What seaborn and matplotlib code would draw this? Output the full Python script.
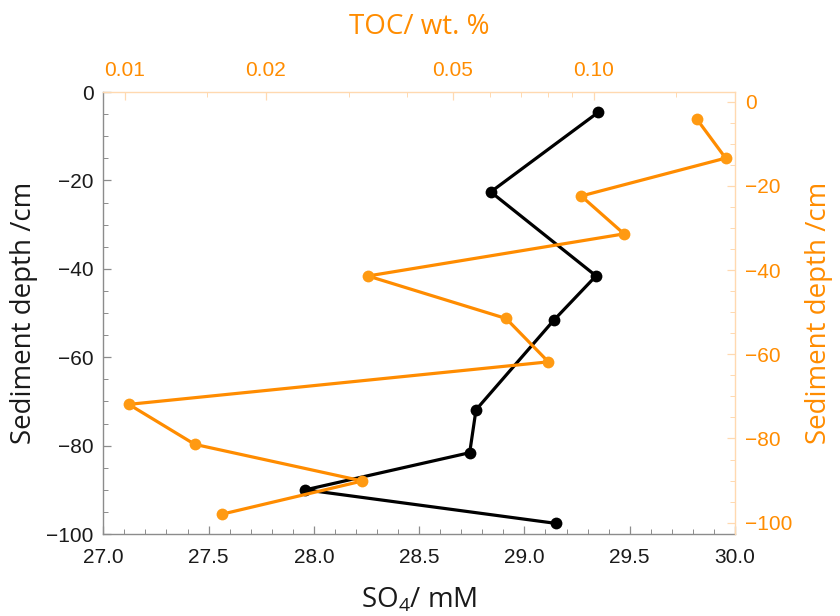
import matplotlib
matplotlib.use("Agg")
import matplotlib.pyplot as plt
import matplotlib.ticker as mticker
import seaborn as sns
import pandas as pd

# ---- data ----
so4_depth = [-4.6, -22.6, -41.6, -51.6, -71.9, -81.6, -90.0, -97.6]
so4_conc = [29.35, 28.84, 29.34, 29.14, 28.77, 28.74, 27.96, 29.15]

toc_depth = [-4.2, -13.4, -22.4, -31.4, -41.4, -51.5, -61.8, -71.9, -81.4, -90.1, -98.0]
toc_wt = [0.166, 0.191, 0.094, 0.116, 0.033, 0.065, 0.080, 0.0102, 0.0141, 0.0321, 0.0161]

bottom_ticks = [27.0, 27.5, 28.0, 28.5, 29.0, 29.5, 30.0]
top_ticks = [0.01, 0.02, 0.05, 0.10]
top_tick_labels = ["0.01", "0.02", "0.05", "0.10"]
depth_ticks = [0, -20, -40, -60, -80, -100]

sns.set_theme(style="white")
plt.rcParams["font.family"] = ["Liberation Sans", "DejaVu Sans"]
plt.rcParams["mathtext.fontset"] = "custom"
plt.rcParams["mathtext.rm"] = "Open Sans"
plt.rcParams["mathtext.it"] = "Open Sans"

ORANGE = "#ff8c00"
ORANGE_PT = "#ff9a12"
ORANGE_AX = "#ffd9b0"
GRAY = "#8c8c8c"
TICK_FS = 15
LABEL_FS = 20

fig = plt.figure(figsize=(8.4, 6.16), dpi=100)
pos = [0.123, 0.1331, 0.752, 0.7175]
ax = fig.add_axes(pos)
ax2 = fig.add_axes(pos, frameon=True)
ax2.patch.set_visible(False)

df1 = pd.DataFrame({"SO4": so4_conc, "depth": so4_depth})
df2 = pd.DataFrame({"TOC": toc_wt, "depth": toc_depth})

sns.lineplot(data=df1, x="SO4", y="depth", ax=ax, sort=False, color="black",
             linewidth=2.3, marker="o", markersize=8.5, markeredgewidth=0)
sns.lineplot(data=df2, x="TOC", y="depth", ax=ax2, sort=False, color=ORANGE,
             linewidth=2.3, marker="o", markersize=8.5, markeredgewidth=0,
             markerfacecolor=ORANGE_PT)

# primary axes (bottom / left)
ax.set_xlim(27.0, 30.0)
ax.set_ylim(-100, 0)
ax.set_xticks(bottom_ticks)
ax.set_xticklabels([f"{v:.1f}" for v in bottom_ticks])
ax.xaxis.set_minor_locator(mticker.MultipleLocator(0.1))
ax.set_yticks(depth_ticks)
ax.yaxis.set_minor_locator(mticker.MultipleLocator(5))
for s in ["top", "right"]:
    ax.spines[s].set_visible(False)
for s in ["left", "bottom"]:
    ax.spines[s].set_color(GRAY)
    ax.spines[s].set_linewidth(1.0)
ax.tick_params(which="both", direction="in", color=GRAY, labelsize=TICK_FS,
               labelcolor="#1a1a1a", left=True, bottom=True)
ax.tick_params(axis="x", pad=10)
ax.tick_params(axis="y", pad=7)
ax.tick_params(which="major", length=6, width=0.9)
ax.tick_params(which="minor", length=3.5, width=0.7)
ax.set_xlabel("SO$_4$/ mM", fontsize=LABEL_FS, fontfamily="Open Sans", color="#1a1a1a", labelpad=14)
ax.set_ylabel("Sediment depth /cm", fontsize=LABEL_FS, fontfamily="Open Sans", color="#1a1a1a", labelpad=6)

# secondary axes (top / right)
ax2.set_xscale("log")
ax2.set_xlim(0.009, 0.2)
ax2.set_ylim(-102.7, 2.3)
ax2.xaxis.tick_top()
ax2.xaxis.set_label_position("top")
ax2.yaxis.tick_right()
ax2.yaxis.set_label_position("right")
ax2.set_xticks(top_ticks)
ax2.set_xticklabels(top_tick_labels)
ax2.xaxis.set_minor_locator(mticker.FixedLocator([0.015, 0.03, 0.04, 0.06, 0.07, 0.08, 0.09, 0.15]))
ax2.xaxis.set_minor_formatter(mticker.NullFormatter())
ax2.set_yticks(depth_ticks)
ax2.yaxis.set_minor_locator(mticker.MultipleLocator(5))
for s in ["left", "bottom"]:
    ax2.spines[s].set_visible(False)
for s in ["top", "right"]:
    ax2.spines[s].set_color(ORANGE_AX)
    ax2.spines[s].set_linewidth(1.0)
ax2.tick_params(which="both", direction="in", color=ORANGE_AX, labelsize=TICK_FS,
                labelcolor=ORANGE, top=True, right=True, bottom=False, left=False)
ax2.tick_params(axis="x", pad=9)
ax2.tick_params(axis="y", pad=7)
ax2.tick_params(which="major", length=6, width=0.9)
ax2.tick_params(which="minor", length=3.5, width=0.7)
ax2.set_xlabel("TOC/ wt. %", fontsize=LABEL_FS, fontfamily="Open Sans", color=ORANGE, labelpad=19)
ax2.set_ylabel("Sediment depth /cm", fontsize=LABEL_FS, fontfamily="Open Sans", color=ORANGE,
               rotation=90, labelpad=9)

fig.savefig("out.png", dpi=100)
